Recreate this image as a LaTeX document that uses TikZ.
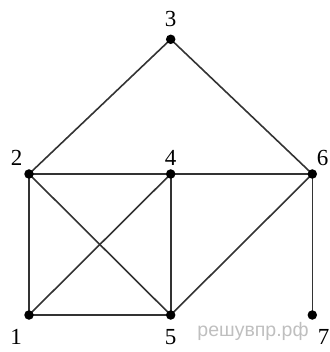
\documentclass[tikz,border=0pt]{standalone}
\usepackage{fontspec}
\setmainfont{Liberation Serif}
\newfontfamily\wmfont{Liberation Sans}
\usetikzlibrary{positioning,backgrounds}

\begin{document}
\begin{tikzpicture}[
    x=1pt, y=-1pt,
    vtx/.style={circle, fill=black, inner sep=0pt, minimum size=9.5pt},
    num/.style={anchor=base, inner sep=0pt, font=\fontsize{23}{27}\selectfont},
    edge/.style={draw=black!80, line width=1.6pt},
    watermark/.style={anchor=base, inner sep=0pt, text=black!25,
        font=\wmfont\fontsize{19.5}{22}\selectfont}
]

    \useasboundingbox (0,0) rectangle (329,352);

    % vertices
    \node[vtx] (v3) at (170.7,39.3) {};
    \node[vtx] (v2) at (29,174) {};
    \node[vtx] (v4) at (170.7,174) {};
    \node[vtx] (v6) at (312.3,174) {};
    \node[vtx] (v1) at (29,315) {};
    \node[vtx] (v5) at (170.7,315) {};
    \node[vtx] (v7) at (312.3,315) {};

    % vertex numbers
    \node[num] (n3) at (170.7,27) {3};
    \node[num] (n2) at (16.5,165.5) {2};
    \node[num] (n4) at (170.7,165.5) {4};
    \node[num] (n6) at (322.5,165.5) {6};
    \node[num] (n1) at (16,344) {1};
    \node[num] (n5) at (170.7,344) {5};
    \node[num] (n7) at (323.5,344) {7};

    \node[watermark] (wm) at (253,336) {решувпр.рф};

    % edges, kept under the dots
    \begin{scope}[on background layer]
        \draw[edge] (v3.center) -- (v2.center);
        \draw[edge] (v3.center) -- (v6.center);
        \draw[edge] (v2.center) -- (v4.center);
        \draw[edge] (v4.center) -- (v6.center);
        \draw[edge] (v2.center) -- (v1.center);
        \draw[edge] (v2.center) -- (v5.center);
        \draw[edge] (v1.center) -- (v4.center);
        \draw[edge] (v1.center) -- (v5.center);
        \draw[edge] (v4.center) -- (v5.center);
        \draw[edge] (v5.center) -- (v6.center);
        \draw[edge] (v6.center) -- (v7.center);
    \end{scope}

\end{tikzpicture}
\end{document}
